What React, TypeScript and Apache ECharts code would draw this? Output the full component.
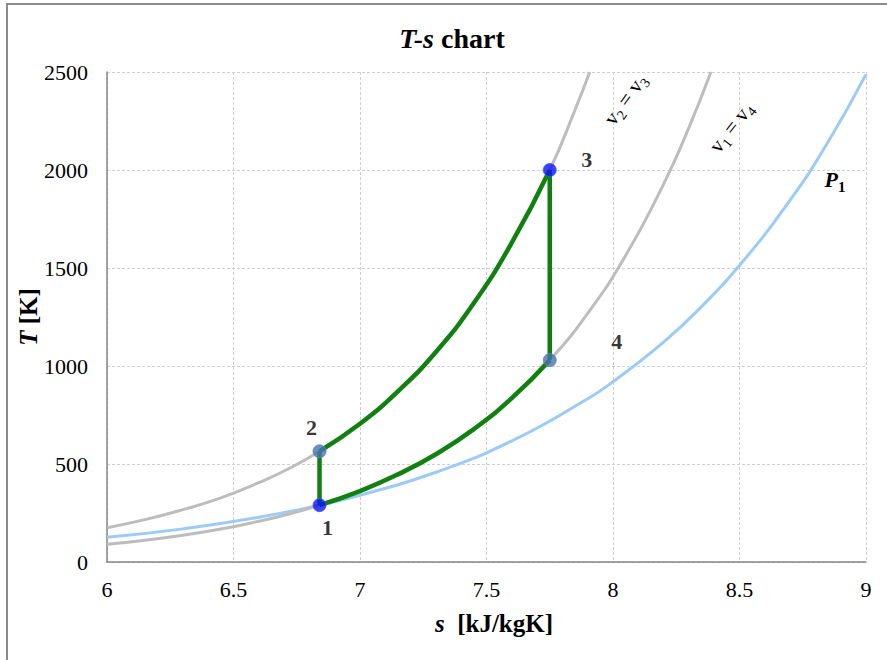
import React, { useEffect, useRef } from 'react';
import * as echarts from 'echarts';

// ---- Data ----
// Isochore v1 = v4 : [s (kJ/kgK), T (K)]
const isochoreV1V4: [number, number][] = [
  [6.0, 90], [6.15, 111], [6.3, 137], [6.45, 168], [6.6, 208], [6.72, 245],
  [6.84, 290], [7.0, 362], [7.15, 447], [7.3, 550], [7.45, 678], [7.6, 836],
  [7.75, 1030], [7.9, 1269], [8.05, 1564], [8.2, 1928], [8.3, 2216], [8.387, 2500],
];
// Isochore v2 = v3
const isochoreV2V3: [number, number][] = [
  [6.0, 175], [6.15, 216], [6.3, 267], [6.45, 327], [6.6, 405], [6.72, 477],
  [6.84, 565], [7.0, 705], [7.15, 871], [7.3, 1071], [7.45, 1321], [7.6, 1629],
  [7.75, 2000], [7.85, 2307], [7.908, 2500],
];
// Isobar P1
const isobarP1: [number, number][] = [
  [6.0, 126], [6.3, 169], [6.6, 228], [6.84, 290], [7.0, 340], [7.3, 458],
  [7.6, 618], [7.9, 833], [8.0, 920], [8.2, 1122], [8.35, 1303], [8.5, 1513],
  [8.7, 1846], [8.85, 2143], [9.0, 2488],
];
// Cycle states 1..4
const stateNames = ['1', '2', '3', '4'];
const stateS = [6.84, 6.84, 7.75, 7.75];
const stateT = [290, 565, 2000, 1030];

const xTicks = { min: 6, max: 9, interval: 0.5 };
const yTicks = { min: 0, max: 2500, interval: 500 };

const F = 'Liberation Serif';

export default function App() {
  const ref = useRef<HTMLDivElement>(null);

  useEffect(() => {
    if (!ref.current) return;
    const chart = echarts.init(ref.current, undefined, { renderer: 'svg' });

    const s1 = stateS[0], s3 = stateS[2];
    const heatAdd = isochoreV2V3.filter((p) => p[0] >= s1 && p[0] <= s3);
    const heatRej = isochoreV1V4.filter((p) => p[0] >= s1 && p[0] <= s3);
    const compression: [number, number][] = [[stateS[0], stateT[0]], [stateS[1], stateT[1]]];
    const expansion: [number, number][] = [[stateS[2], stateT[2]], [stateS[3], stateT[3]]];

    const green = '#118011';
    const pointColors = ['#0a14f5', '#4a74ad', '#0a14f5', '#4a74ad'];
    const labelOffsets = [[8, 22], [-8, -24], [37, -11], [67, -19]];

    const lineBase = { type: 'line', showSymbol: false, symbol: 'none', silent: true };
    const tickLabel = { fontSize: 22, color: '#000', fontFamily: F, formatter: (v: number) => String(v) };

    const vRich = {
      v: { fontSize: 21, fontFamily: F, fill: '#000', verticalAlign: 'top', lineHeight: 23 },
      s: { fontSize: 14, fontFamily: F, fill: '#000', verticalAlign: 'top', lineHeight: 14, padding: [10, 0, 0, 0] },
    };
    const boldRich = (size: number) => ({
      i: { fontSize: size, fontWeight: 'bold', fontStyle: 'italic', fontFamily: F, fill: '#000' },
      b: { fontSize: size, fontWeight: 'bold', fontFamily: F, fill: '#000' },
    });

    const option: any = {
      animation: false,
      grid: { left: 107, top: 72, right: 21, bottom: 98 },
      xAxis: {
        type: 'value', ...xTicks,
        axisLine: { show: true, lineStyle: { color: '#868686', width: 1.5 } },
        axisTick: { show: false },
        axisLabel: { ...tickLabel, margin: 16 },
        splitLine: { show: true, lineStyle: { color: '#cfcfcf', type: [3, 2], width: 1 } },
      },
      yAxis: {
        type: 'value', ...yTicks,
        axisLine: { show: true, lineStyle: { color: '#868686', width: 1.5 } },
        axisTick: { show: false },
        axisLabel: { ...tickLabel, margin: 19 },
        splitLine: { show: true, lineStyle: { color: '#cfcfcf', type: [3, 2], width: 1 } },
      },
      series: [
        { ...lineBase, name: 'P1', data: isobarP1, smooth: true, lineStyle: { color: '#9ccbf7', width: 3 }, z: 2 },
        { ...lineBase, name: 'v1=v4', data: isochoreV1V4, smooth: true, lineStyle: { color: '#bdbdbd', width: 3 }, z: 3 },
        { ...lineBase, name: 'v2=v3', data: isochoreV2V3, smooth: true, lineStyle: { color: '#bdbdbd', width: 3 }, z: 3 },
        { ...lineBase, name: '1-2', data: compression, lineStyle: { color: green, width: 4.5 }, z: 4 },
        { ...lineBase, name: '2-3', data: heatAdd, smooth: true, lineStyle: { color: green, width: 4.5 }, z: 4 },
        { ...lineBase, name: '3-4', data: expansion, lineStyle: { color: green, width: 4.5 }, z: 4 },
        { ...lineBase, name: '4-1', data: heatRej, smooth: true, lineStyle: { color: green, width: 4.5 }, z: 4 },
        {
          type: 'scatter',
          name: 'states',
          symbolSize: 13,
          z: 5,
          silent: true,
          data: stateNames.map((n, i) => ({
            value: [stateS[i], stateT[i]],
            name: n,
            itemStyle: { color: pointColors[i], borderColor: i % 2 === 0 ? '#3a5cff' : '#5b84bf', borderWidth: 1 },
            label: {
              show: true,
              formatter: n,
              position: 'inside',
              offset: labelOffsets[i],
              fontSize: 22,
              fontWeight: 'bold',
              fontFamily: F,
              color: '#000',
              textBorderWidth: 0,
            },
          })),
        },
      ],
      graphic: [
        {
          type: 'rect',
          shape: { x: 7, y: 4, width: 1000, height: 1000 },
          style: { fill: 'none', stroke: '#8a8a8a', lineWidth: 2 },
          silent: true,
        },
        {
          type: 'text',
          x: 452, y: 38,
          style: { text: '{i|T-s}{b| chart}', align: 'center', verticalAlign: 'middle', rich: boldRich(28) },
        },
        {
          type: 'text',
          x: 494, y: 623,
          style: { text: '{i|s}{b|  [kJ/kgK]}', align: 'center', verticalAlign: 'middle', rich: boldRich(25) },
        },
        {
          type: 'text',
          x: 28, y: 317,
          rotation: Math.PI / 2,
          style: { text: '{i|T}{b| [K]}', align: 'center', verticalAlign: 'middle', rich: boldRich(25) },
        },
        {
          type: 'text',
          x: 626, y: 100,
          rotation: (54 * Math.PI) / 180,
          style: { text: '{v|v}{s|2}{v| = v}{s|3}', align: 'center', verticalAlign: 'middle', rich: vRich },
        },
        {
          type: 'text',
          x: 732, y: 128,
          rotation: (52 * Math.PI) / 180,
          style: { text: '{v|v}{s|1}{v| = v}{s|4}', align: 'center', verticalAlign: 'middle', rich: vRich },
        },
        {
          type: 'text',
          x: 835, y: 180,
          style: {
            text: '{p|P}{s|1}',
            align: 'center', verticalAlign: 'middle',
            rich: {
              p: { fontSize: 22, fontWeight: 'bold', fontStyle: 'italic', fontFamily: F, fill: '#000', verticalAlign: 'top', lineHeight: 24 },
              s: { fontSize: 15, fontWeight: 'bold', fontFamily: F, fill: '#000', verticalAlign: 'top', lineHeight: 15, padding: [11, 0, 0, 0] },
            },
          },
        },
      ],
    };

    chart.setOption(option);
    return () => chart.dispose();
  }, []);

  return (
    <div
      ref={ref}
      style={{ position: 'fixed', left: 0, top: 0, width: 887, height: 660, background: '#fff' }}
    />
  );
}
